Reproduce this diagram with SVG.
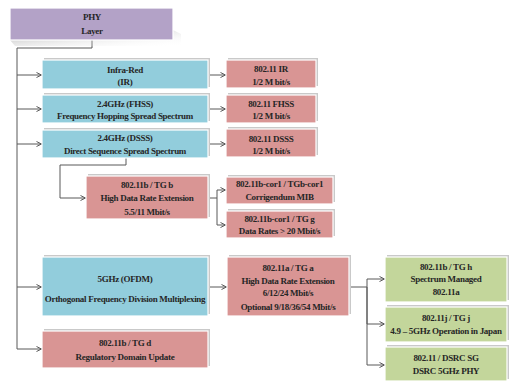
<svg xmlns="http://www.w3.org/2000/svg" width="509" height="381" viewBox="0 0 509 381">
<defs>
<style>
text{font-family:"Liberation Serif","Times New Roman",serif;font-weight:bold;font-size:9px;fill:#262626;text-anchor:middle;letter-spacing:-0.3px}
.sh{fill:#c9c9c9}
.box{stroke:#ffffff;stroke-width:1.2}
.p{fill:#d99594}.b{fill:#92cddc}.g{fill:#c3d69b}.v{fill:#b3a2c7}
.c{fill:none;stroke:#595959;stroke-width:1}
</style>
<marker id="ar" viewBox="0 0 6 6" refX="6" refY="3" markerWidth="6" markerHeight="6" orient="auto" markerUnits="userSpaceOnUse">
<path d="M0.5,0.5 L5.5,3 L0.5,5.5" fill="none" stroke="#595959" stroke-width="1"/>
</marker>
<linearGradient id="phs" x1="0" y1="0" x2="1" y2="1">
<stop offset="0" stop-color="#999" stop-opacity="0.8"/>
<stop offset="1" stop-color="#fff" stop-opacity="0"/>
</linearGradient>
</defs>
<rect width="509" height="381" fill="#ffffff"/>
<g id="connectors">
<path class="c" d="M92,40 V48 H17 V349"/>
<path class="c" marker-end="url(#ar)" d="M17,75 H42"/>
<path class="c" marker-end="url(#ar)" d="M17,109 H42"/>
<path class="c" marker-end="url(#ar)" d="M17,144 H42"/>
<path class="c" marker-end="url(#ar)" d="M17,287 H42"/>
<path class="c" marker-end="url(#ar)" d="M17,349 H42"/>
<path class="c" marker-end="url(#ar)" d="M208,75 H226"/>
<path class="c" marker-end="url(#ar)" d="M208,109 H226"/>
<path class="c" marker-end="url(#ar)" d="M208,144 H226"/>
<path class="c" marker-end="url(#ar)" d="M126,158 V165 H60 V198 H86"/>
<path class="c" d="M208,198 H217"/>
<path class="c" marker-end="url(#ar)" d="M217,198 V190 H226"/>
<path class="c" marker-end="url(#ar)" d="M217,198 V225 H226"/>
<path class="c" marker-end="url(#ar)" d="M208,287 H227"/>
<path class="c" d="M349,287 H367"/>
<path class="c" marker-end="url(#ar)" d="M367,287 V279 H385"/>
<path class="c" marker-end="url(#ar)" d="M367,287 V324 H385"/>
<path class="c" marker-end="url(#ar)" d="M367,287 V365 H385"/>
</g>
<g id="phy">
<polygon points="173,30 181,34 181,46 15,46 10,40 173,40" fill="url(#phs)"/>
<rect class="box v" x="10" y="8" width="163" height="32"/>
<text x="92" y="20">PHY</text>
<text x="92" y="34">Layer</text>
</g>
<g id="ir">
<rect class="sh" x="44" y="58" width="166" height="29"/>
<rect class="box b" x="42" y="60" width="166" height="29"/>
<text x="125" y="73">Infra-Red</text>
<text x="125" y="85">(IR)</text>
</g>
<g id="fhss">
<rect class="sh" x="44" y="93" width="166" height="28"/>
<rect class="box b" x="42" y="95" width="166" height="28"/>
<text x="125" y="107">2.4GHz (FHSS)</text>
<text x="125" y="119">Frequency Hopping Spread Spectrum</text>
</g>
<g id="dsss">
<rect class="sh" x="44" y="128" width="166" height="28"/>
<rect class="box b" x="42" y="130" width="166" height="28"/>
<text x="125" y="141">2.4GHz (DSSS)</text>
<text x="125" y="154">Direct Sequence Spread Spectrum</text>
</g>
<g id="ir-std">
<rect class="sh" x="228" y="58" width="90" height="28"/>
<rect class="box p" x="226" y="60" width="90" height="28"/>
<text x="271" y="72">802.11 IR</text>
<text x="271" y="85">1/2 M bit/s</text>
</g>
<g id="fhss-std">
<rect class="sh" x="228" y="93" width="90" height="28"/>
<rect class="box p" x="226" y="95" width="90" height="28"/>
<text x="271" y="107">802.11 FHSS</text>
<text x="271" y="119">1/2 M bit/s</text>
</g>
<g id="dsss-std">
<rect class="sh" x="228" y="127" width="90" height="28"/>
<rect class="box p" x="226" y="129" width="90" height="28"/>
<text x="271" y="142">802.11 DSSS</text>
<text x="271" y="154">1/2 M bit/s</text>
</g>
<g id="tgb">
<rect class="sh" x="88" y="174" width="122" height="43"/>
<rect class="box p" x="86" y="176" width="122" height="43"/>
<text x="147" y="188">802.11b / TG b</text>
<text x="147" y="201">High Data Rate Extension</text>
<text x="147" y="215">5.5/11 Mbit/s</text>
</g>
<g id="tgb-cor1">
<rect class="sh" x="228" y="175" width="107" height="27"/>
<rect class="box p" x="226" y="177" width="107" height="27"/>
<text x="279.5" y="187">802.11b-cor1 / TGb-cor1</text>
<text x="279.5" y="200">Corrigendum MIB</text>
</g>
<g id="tgg">
<rect class="sh" x="228" y="209" width="107" height="27"/>
<rect class="box p" x="226" y="211" width="107" height="27"/>
<text x="279.5" y="222">802.11b-cor1 / TG g</text>
<text x="279.5" y="234">Data Rates &gt; 20 Mbit/s</text>
</g>
<g id="ofdm">
<rect class="sh" x="44" y="255" width="166" height="59"/>
<rect class="box b" x="42" y="257" width="166" height="59"/>
<text x="125" y="282">5GHz (OFDM)</text>
<text x="125" y="302">Orthogonal Frequency Division Multiplexing</text>
</g>
<g id="tga">
<rect class="sh" x="229" y="255" width="122" height="59"/>
<rect class="box p" x="227" y="257" width="122" height="59"/>
<text x="288" y="271">802.11a / TG a</text>
<text x="288" y="284">High Data Rate Extension</text>
<text x="288" y="296">6/12/24 Mbit/s</text>
<text x="288" y="310">Optional 9/18/36/54 Mbit/s</text>
</g>
<g id="tgd">
<rect class="sh" x="44" y="329" width="166" height="37"/>
<rect class="box p" x="42" y="331" width="166" height="37"/>
<text x="125" y="346">802.11b / TG d</text>
<text x="125" y="360">Regulatory Domain Update</text>
</g>
<g id="tgh">
<rect class="sh" x="387" y="255" width="122" height="45"/>
<rect class="box g" x="385" y="257" width="122" height="45"/>
<text x="446" y="270">802.11b / TG h</text>
<text x="446" y="282">Spectrum Managed</text>
<text x="446" y="295">802.11a</text>
</g>
<g id="tgj">
<rect class="sh" x="387" y="305" width="122" height="35"/>
<rect class="box g" x="385" y="307" width="122" height="35"/>
<text x="446" y="321">802.11j / TG j</text>
<text x="446" y="334">4.9 – 5GHz Operation in Japan</text>
</g>
<g id="dsrc">
<rect class="sh" x="387" y="345" width="122" height="34"/>
<rect class="box g" x="385" y="347" width="122" height="34"/>
<text x="446" y="361">802.11 / DSRC SG</text>
<text x="446" y="374">DSRC 5GHz PHY</text>
</g>
</svg>
